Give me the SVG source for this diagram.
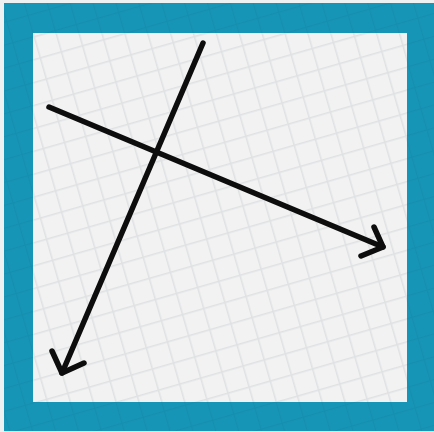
<svg xmlns="http://www.w3.org/2000/svg" width="434" height="432" viewBox="0 0 434 432">
<style>
.ax{fill:none;stroke:#0d0d0d;stroke-width:5.5;stroke-linecap:round;stroke-linejoin:round}
</style>
<defs>
<pattern id="grid" width="22" height="22" patternUnits="userSpaceOnUse" patternTransform="rotate(-16)">
<rect width="22" height="22" fill="#f2f2f2"/>
<path d="M0 0.5H22M0.5 0V22" stroke="#dfe1e3" stroke-width="2"/>
</pattern>
<pattern id="grid2" width="22" height="22" patternUnits="userSpaceOnUse" patternTransform="rotate(-16)">
<rect width="22" height="22" fill="#1795b6"/>
<path d="M0 0.5H22M0.5 0V22" stroke="#158fb0" stroke-width="1.6"/>
</pattern>
</defs>
<rect width="434" height="432" fill="#eef1f2"/>
<rect x="4" y="3" width="430" height="428" fill="url(#grid2)"/>
<rect x="33" y="33" width="374" height="369" fill="url(#grid)"/>
<g id="connectors">
<g id="axis1">
<path class="ax" d="M49 107L383 247"/>
<path class="ax" d="M374 227L383 247L361 256"/>
</g>
<g id="axis2">
<path class="ax" d="M203 43L62 373"/>
<path class="ax" d="M52 351L62 373L84 363"/>
</g>
</g>
</svg>
